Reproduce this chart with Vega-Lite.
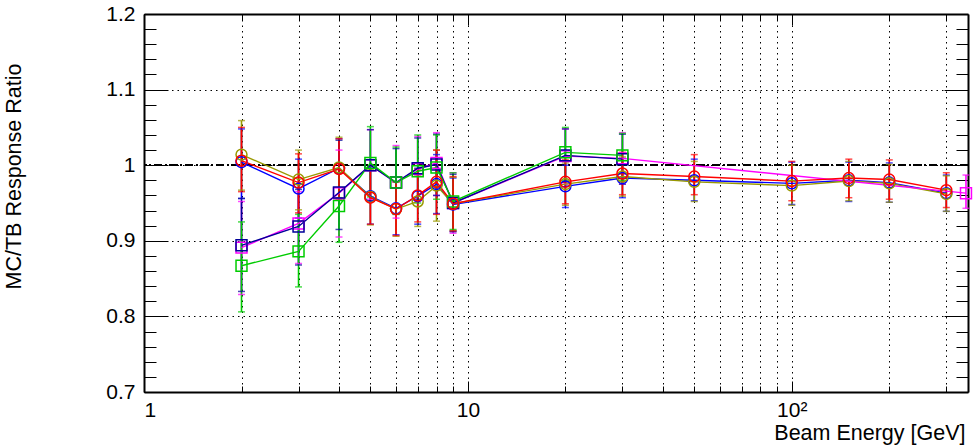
{
  "$schema": "https://vega.github.io/schema/vega-lite/v6.json",
  "width": 824,
  "height": 378,
  "autosize": {"type": "none"},
  "padding": {"left": 144, "top": 14, "right": 7, "bottom": 55},
  "background": "white",
  "config": {
    "view": {"stroke": null},
    "axis": {
      "domainColor": "black", "domainWidth": 2, "tickColor": "black", "tickWidth": 1,
      "labelFont": "Liberation Sans", "labelFontSize": 21, "labelColor": "black",
      "titleFont": "Liberation Sans", "titleFontSize": 21.5, "titleColor": "black", "titleFontWeight": "normal",
      "gridColor": "black", "gridDash": [1.5, 4], "gridWidth": 1, "gridOpacity": 1
    }
  },
  "datasets": {
    "pts": [
      {"s": "A", "E": 2, "r": 1.004, "lo": 0.956, "hi": 1.048},
      {"s": "A", "E": 3, "r": 0.969, "lo": 0.930, "hi": 1.008},
      {"s": "A", "E": 4, "r": 0.996, "lo": 0.957, "hi": 1.035},
      {"s": "A", "E": 5, "r": 0.959, "lo": 0.922, "hi": 0.996},
      {"s": "A", "E": 6, "r": 0.943, "lo": 0.908, "hi": 0.978},
      {"s": "A", "E": 7, "r": 0.959, "lo": 0.922, "hi": 0.996},
      {"s": "A", "E": 8, "r": 0.975, "lo": 0.936, "hi": 1.014},
      {"s": "A", "E": 9, "r": 0.948, "lo": 0.913, "hi": 0.983},
      {"s": "A", "E": 20, "r": 0.972, "lo": 0.944, "hi": 1.000},
      {"s": "A", "E": 30, "r": 0.983, "lo": 0.957, "hi": 1.009},
      {"s": "A", "E": 50, "r": 0.980, "lo": 0.953, "hi": 1.008},
      {"s": "A", "E": 100, "r": 0.976, "lo": 0.948, "hi": 1.004},
      {"s": "A", "E": 150, "r": 0.980, "lo": 0.952, "hi": 1.004},
      {"s": "A", "E": 200, "r": 0.977, "lo": 0.951, "hi": 1.003},
      {"s": "A", "E": 300, "r": 0.963, "lo": 0.939, "hi": 0.987},
      {"s": "B", "E": 2, "r": 1.014, "lo": 0.967, "hi": 1.059},
      {"s": "B", "E": 3, "r": 0.981, "lo": 0.941, "hi": 1.020},
      {"s": "B", "E": 4, "r": 0.997, "lo": 0.957, "hi": 1.037},
      {"s": "B", "E": 5, "r": 0.958, "lo": 0.921, "hi": 0.995},
      {"s": "B", "E": 6, "r": 0.942, "lo": 0.906, "hi": 0.978},
      {"s": "B", "E": 7, "r": 0.952, "lo": 0.919, "hi": 0.987},
      {"s": "B", "E": 8, "r": 0.973, "lo": 0.926, "hi": 1.020},
      {"s": "B", "E": 9, "r": 0.949, "lo": 0.914, "hi": 0.984},
      {"s": "B", "E": 20, "r": 0.975, "lo": 0.947, "hi": 1.003},
      {"s": "B", "E": 30, "r": 0.985, "lo": 0.959, "hi": 1.011},
      {"s": "B", "E": 50, "r": 0.978, "lo": 0.952, "hi": 1.005},
      {"s": "B", "E": 100, "r": 0.973, "lo": 0.947, "hi": 1.000},
      {"s": "B", "E": 150, "r": 0.979, "lo": 0.953, "hi": 1.005},
      {"s": "B", "E": 200, "r": 0.976, "lo": 0.951, "hi": 1.001},
      {"s": "B", "E": 300, "r": 0.962, "lo": 0.939, "hi": 0.986},
      {"s": "D", "E": 2, "r": 0.891, "lo": 0.829, "hi": 0.952},
      {"s": "D", "E": 3, "r": 0.923, "lo": 0.870, "hi": 0.965},
      {"s": "D", "E": 4, "r": 0.963, "lo": 0.905, "hi": 1.020},
      {"s": "D", "E": 5, "r": 1.000, "lo": 0.955, "hi": 1.047},
      {"s": "D", "E": 6, "r": 0.977, "lo": 0.930, "hi": 1.026},
      {"s": "D", "E": 7, "r": 0.995, "lo": 0.952, "hi": 1.038},
      {"s": "D", "E": 8, "r": 1.003, "lo": 0.960, "hi": 1.043},
      {"s": "D", "E": 9, "r": 0.950, "lo": 0.910, "hi": 0.990},
      {"s": "D", "E": 20, "r": 1.012, "lo": 0.975, "hi": 1.048},
      {"s": "D", "E": 30, "r": 1.009, "lo": 0.975, "hi": 1.043},
      {"s": "D", "E": 345, "r": 0.963, "lo": 0.943, "hi": 0.987},
      {"s": "E", "E": 2, "r": 0.894, "lo": 0.833, "hi": 0.956},
      {"s": "E", "E": 3, "r": 0.919, "lo": 0.868, "hi": 0.968},
      {"s": "E", "E": 4, "r": 0.964, "lo": 0.915, "hi": 1.033},
      {"s": "E", "E": 5, "r": 1.000, "lo": 0.953, "hi": 1.047},
      {"s": "E", "E": 6, "r": 0.977, "lo": 0.935, "hi": 1.022},
      {"s": "E", "E": 7, "r": 0.996, "lo": 0.955, "hi": 1.036},
      {"s": "E", "E": 8, "r": 1.001, "lo": 0.960, "hi": 1.041},
      {"s": "E", "E": 9, "r": 0.950, "lo": 0.912, "hi": 0.988},
      {"s": "E", "E": 20, "r": 1.013, "lo": 0.978, "hi": 1.048},
      {"s": "E", "E": 30, "r": 1.008, "lo": 0.975, "hi": 1.041},
      {"s": "F", "E": 2, "r": 0.867, "lo": 0.806, "hi": 0.925},
      {"s": "F", "E": 3, "r": 0.886, "lo": 0.839, "hi": 0.935},
      {"s": "F", "E": 4, "r": 0.946, "lo": 0.898, "hi": 0.990},
      {"s": "F", "E": 5, "r": 1.003, "lo": 0.958, "hi": 1.051},
      {"s": "F", "E": 6, "r": 0.977, "lo": 0.935, "hi": 1.024},
      {"s": "F", "E": 7, "r": 0.992, "lo": 0.950, "hi": 1.040},
      {"s": "F", "E": 8, "r": 0.997, "lo": 0.955, "hi": 1.040},
      {"s": "F", "E": 9, "r": 0.952, "lo": 0.915, "hi": 0.990},
      {"s": "F", "E": 20, "r": 1.017, "lo": 0.980, "hi": 1.050},
      {"s": "F", "E": 30, "r": 1.013, "lo": 0.980, "hi": 1.042},
      {"s": "C", "E": 2, "r": 1.006, "lo": 0.965, "hi": 1.050},
      {"s": "C", "E": 3, "r": 0.977, "lo": 0.937, "hi": 1.015},
      {"s": "C", "E": 4, "r": 0.995, "lo": 0.955, "hi": 1.035},
      {"s": "C", "E": 5, "r": 0.957, "lo": 0.922, "hi": 0.993},
      {"s": "C", "E": 6, "r": 0.942, "lo": 0.907, "hi": 0.978},
      {"s": "C", "E": 7, "r": 0.960, "lo": 0.925, "hi": 0.995},
      {"s": "C", "E": 8, "r": 0.978, "lo": 0.935, "hi": 1.020},
      {"s": "C", "E": 9, "r": 0.949, "lo": 0.913, "hi": 0.985},
      {"s": "C", "E": 20, "r": 0.978, "lo": 0.949, "hi": 1.007},
      {"s": "C", "E": 30, "r": 0.989, "lo": 0.961, "hi": 1.017},
      {"s": "C", "E": 50, "r": 0.985, "lo": 0.961, "hi": 1.014},
      {"s": "C", "E": 100, "r": 0.979, "lo": 0.953, "hi": 1.005},
      {"s": "C", "E": 150, "r": 0.983, "lo": 0.957, "hi": 1.008},
      {"s": "C", "E": 200, "r": 0.981, "lo": 0.955, "hi": 1.007},
      {"s": "C", "E": 300, "r": 0.967, "lo": 0.944, "hi": 0.990}
    ]
  },
  "data": {"name": "pts"},
  "resolve": {"axis": {"x": "independent", "y": "independent"}},
  "layer": [
    {
      "mark": {"type": "rule", "color": "black", "strokeWidth": 1, "strokeDash": [8, 3, 1.5, 3]},
      "encoding": {
        "y": {"datum": 1, "type": "quantitative", "scale": {"domain": [0.7, 1.2]}, "axis": null}
      }
    },
    {
      "mark": {"type": "rule", "strokeWidth": 1.6},
      "encoding": {
        "x": {"field": "E", "type": "quantitative", "scale": {"type": "log", "domain": [1, 350], "nice": false},
          "axis": {"orient": "bottom", "values": [1, 10, 100], "tickSize": -11, "labelPadding": 18,
            "labelExpr": "datum.value == 100 ? '10²' : datum.value == 10 ? '10' : '1'",
            "grid": true, "title": "Beam Energy [GeV]", "titleAnchor": "end", "titleAlign": "right",
            "titleX": 821, "titleY": 47, "titleBaseline": "alphabetic"}},
        "y": {"field": "lo", "type": "quantitative", "scale": {"domain": [0.7, 1.2], "nice": false, "zero": false},
          "axis": {"orient": "left", "values": [0.7, 0.8, 0.9, 1.0, 1.1, 1.2], "tickSize": -24, "labelPadding": 33,
            "format": ".1~f", "grid": true, "title": "MC/TB Response Ratio", "titleAngle": -90,
            "titleAlign": "center", "titleBaseline": "top", "titleX": -141, "titleY": 162}},
        "y2": {"field": "hi"},
        "color": {"field": "s", "type": "nominal", "legend": null,
          "scale": {"domain": ["A", "B", "C", "D", "E", "F"], "range": ["#0000ff", "#999900", "#ff0000", "#ff00ff", "#000099", "#00cc00"]}}
      }
    },
    {
      "transform": [{"fold": ["lo", "hi"], "as": ["end", "yv"]}],
      "mark": {"type": "tick", "orient": "horizontal", "size": 7, "thickness": 1.5},
      "encoding": {
        "x": {"field": "E", "type": "quantitative", "scale": {"type": "log", "domain": [1, 350], "nice": false},
          "axis": {"orient": "bottom", "values": [2, 3, 4, 5, 6, 7, 8, 9, 20, 30, 40, 50, 60, 70, 80, 90, 200, 300],
            "tickSize": -6, "labels": false, "domain": false, "grid": true, "title": null}},
        "y": {"field": "yv", "type": "quantitative", "scale": {"domain": [0.7, 1.2], "nice": false, "zero": false},
          "axis": {"orient": "left", "values": [0.72, 0.74, 0.76, 0.78, 0.82, 0.84, 0.86, 0.88, 0.92, 0.94, 0.96, 0.98, 1.02, 1.04, 1.06, 1.08, 1.12, 1.14, 1.16, 1.18],
            "tickSize": -12, "labels": false, "domain": false, "grid": false, "title": null}},
        "color": {"field": "s", "type": "nominal", "legend": null,
          "scale": {"domain": ["A", "B", "C", "D", "E", "F"], "range": ["#0000ff", "#999900", "#ff0000", "#ff00ff", "#000099", "#00cc00"]}}
      }
    },
    {
      "mark": {"type": "line", "strokeWidth": 1.4},
      "encoding": {
        "x": {"field": "E", "type": "quantitative", "scale": {"type": "log", "domain": [1, 350], "nice": false},
          "axis": {"orient": "top", "values": [1, 10, 100], "tickSize": -11, "labels": false, "grid": false, "title": null}},
        "y": {"field": "r", "type": "quantitative", "scale": {"domain": [0.7, 1.2], "nice": false, "zero": false},
          "axis": {"orient": "right", "values": [0.7, 0.8, 0.9, 1.0, 1.1, 1.2], "tickSize": -24, "labels": false, "grid": false, "title": null}},
        "color": {"field": "s", "type": "nominal", "legend": null,
          "scale": {"domain": ["A", "B", "C", "D", "E", "F"], "range": ["#0000ff", "#999900", "#ff0000", "#ff00ff", "#000099", "#00cc00"]}}
      }
    },
    {
      "mark": {"type": "point", "filled": false, "size": 120, "strokeWidth": 1.5, "opacity": 1},
      "encoding": {
        "x": {"field": "E", "type": "quantitative", "scale": {"type": "log", "domain": [1, 350], "nice": false},
          "axis": {"orient": "top", "values": [2, 3, 4, 5, 6, 7, 8, 9, 20, 30, 40, 50, 60, 70, 80, 90, 200, 300],
            "tickSize": -6, "labels": false, "domain": false, "grid": false, "title": null}},
        "y": {"field": "r", "type": "quantitative", "scale": {"domain": [0.7, 1.2], "nice": false, "zero": false},
          "axis": {"orient": "right", "values": [0.72, 0.74, 0.76, 0.78, 0.82, 0.84, 0.86, 0.88, 0.92, 0.94, 0.96, 0.98, 1.02, 1.04, 1.06, 1.08, 1.12, 1.14, 1.16, 1.18],
            "tickSize": -12, "labels": false, "domain": false, "grid": false, "title": null}},
        "color": {"field": "s", "type": "nominal", "legend": null,
          "scale": {"domain": ["A", "B", "C", "D", "E", "F"], "range": ["#0000ff", "#999900", "#ff0000", "#ff00ff", "#000099", "#00cc00"]}},
        "shape": {"field": "s", "type": "nominal", "legend": null,
          "scale": {"domain": ["A", "B", "C", "D", "E", "F"], "range": ["circle", "circle", "circle", "square", "square", "square"]}}
      }
    }
  ]
}
